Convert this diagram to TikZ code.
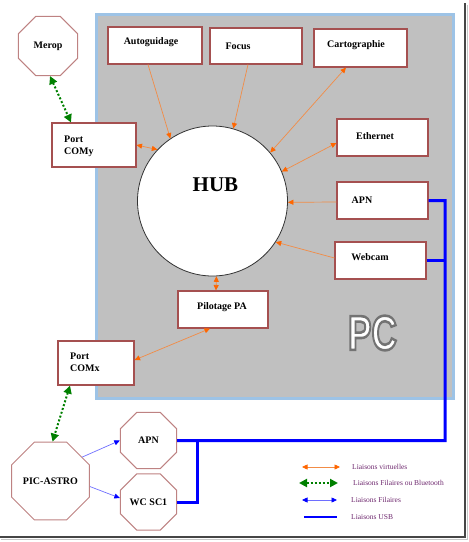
\documentclass[tikz,border=0pt]{standalone}
\usepackage{fontspec}
\setmainfont{Liberation Serif}
\newfontfamily\pcfont{Liberation Sans}
\usetikzlibrary{arrows.meta,calc,shapes.geometric}
\definecolor{boxred}{RGB}{165,80,80}
\definecolor{octred}{RGB}{190,130,130}
\definecolor{pcgray}{RGB}{192,192,192}
\definecolor{pcblue}{RGB}{157,195,230}
\definecolor{oline}{RGB}{242,140,70}
\definecolor{ohead}{RGB}{255,102,0}
\definecolor{gline}{RGB}{0,128,0}
\definecolor{bline}{RGB}{110,110,255}
\definecolor{bhead}{RGB}{0,0,255}
\definecolor{usbblue}{RGB}{0,0,255}
\definecolor{legtext}{RGB}{110,40,110}
\definecolor{shadowdark}{RGB}{70,70,70}
\newcommand{\outlinedtext}[1]{\color{white}\special{pdf:literal direct 0.45 G 2 Tr 2.6 w}#1\special{pdf:literal direct 0 Tr 0 G 0.4 w}}
\tikzset{
  otip/.tip={Triangle[length=5.5pt,width=5pt,color=ohead]},
  gtip/.tip={Triangle[length=8pt,width=8pt,color=gline]},
  btip/.tip={Triangle[length=5.5pt,width=5pt,color=bhead]},
  box/.style={draw=boxred,line width=1.1pt,fill=white,inner sep=0pt},
  oct/.style={regular polygon,regular polygon sides=8,draw=octred,line width=1pt,fill=white,inner sep=0pt,font=\bfseries\fontsize{10}{12}\selectfont},
  btext/.style={inner sep=0pt,font=\bfseries\fontsize{10}{12}\selectfont},
  oarrow/.style={draw=oline,line width=0.7pt},
  garrow/.style={draw=gline,line width=2pt,dash pattern=on 2pt off 2pt,gtip-gtip},
  barrow/.style={draw=bline,line width=0.7pt,-btip},
  usb/.style={draw=usbblue,line width=3pt},
  legend/.style={inner sep=0pt,anchor=west,text=legtext,font=\fontsize{7.5}{9}\selectfont},
  pcstyle/.style={inner sep=0pt,font=\pcfont\bfseries\fontsize{49}{49}\selectfont}
}
\begin{document}
\begin{tikzpicture}[x=1pt,y=-1pt]
\useasboundingbox (0,0) rectangle (469,542);
% page shadow
\draw[line width=1.2pt,gray!45] (467.5,5) -- (467.5,539.5) -- (1,539.5);
\draw[line width=2pt,shadowdark] (465,3) -- (465,537) -- (0,537);

% PC area
\node[draw=pcblue,line width=3.5pt,fill=pcgray,minimum width=357pt,minimum height=384pt,inner sep=0pt] (pc) at (275,206.5) {};

% HUB
\node[circle,draw=gray!40!black,line width=0.8pt,fill=white,minimum size=150pt,inner sep=0pt] (hub) at (212.5,201) {};
\node[inner sep=0pt,font=\bfseries\fontsize{21}{21}\selectfont] (hubtext) at (215.5,185) {HUB};

% boxes
\node[box,minimum width=94pt,minimum height=37pt] (auto) at (155,45.5) {};
\node[btext] (autot) at (151,42) {Autoguidage};
\node[box,minimum width=92pt,minimum height=36pt] (focus) at (256,46) {};
\node[btext] (focust) at (238,46) {Focus};
\node[box,minimum width=93pt,minimum height=38pt] (carto) at (360.5,48) {};
\node[btext] (cartot) at (356,45) {Cartographie};
\node[box,minimum width=91pt,minimum height=37pt] (eth) at (382.5,137.5) {};
\node[btext] (etht) at (375,136) {Ethernet};
\node[box,minimum width=91pt,minimum height=37pt] (apnpc) at (382.5,200.5) {};
\node[btext] (apnpct) at (362,200) {APN};
\node[box,minimum width=91pt,minimum height=37pt] (webcam) at (380.5,260.5) {};
\node[btext] (webcamt) at (370,257) {Webcam};
\node[box,minimum width=90pt,minimum height=37pt] (pilot) at (223,309.5) {};
\node[btext] (pilott) at (222,307) {Pilotage PA};
\node[box,minimum width=84pt,minimum height=44pt] (comy) at (94,145) {};
\node[btext,anchor=west,align=left] (comyt) at (64,146) {Port\\COMy};
\node[box,minimum width=76pt,minimum height=44pt] (comx) at (96,363) {};
\node[btext,anchor=west,align=left] (comxt) at (70,362) {Port\\COMx};

% octagons
\node[oct,minimum size=64pt] (merop) at (48,46) {Merop};
\node[oct,minimum size=74pt] (pic) at (50.5,481) {PIC-ASTRO};
\node[oct,minimum size=61pt] (apno) at (148.5,440.5) {APN};
\node[oct,minimum size=61pt] (wcsc) at (148.5,502) {WC SC1};

% orange (virtual) links
\draw[oarrow,-otip] ($(auto.south)+(-7,0)$) -- (hub.124);
\draw[oarrow,-otip] ($(focus.south)+(-8,0)$) -- (hub.74);
\draw[oarrow,otip-otip] ($(carto.south)+(-14.5,0)$) -- (hub.40);
\draw[oarrow,otip-otip] ($(eth.west)+(0,5.5)$) -- (hub.23);
\draw[oarrow,-otip] ($(apnpc.west)+(0,1.5)$) -- (hub.-1);
\draw[oarrow,-otip] ($(webcam.west)+(0,-2.5)$) -- (hub.-33);
\draw[oarrow,otip-otip] (comy.east) -- (hub.137);
\draw[oarrow,otip-otip] ($(pilot.north)+(-7,0)$) -- (hub.-87);
\draw[oarrow,otip-otip] ($(pilot.south)+(-13,0)$) -- ($(comx.east)+(0,-3)$);

% green links
\draw[garrow] ($(merop.south)+(2,0)$) -- ($(comy.north)+(-23,0)$);
\draw[garrow] ($(comx.south)+(-26,0)$) -- ($(pic.north)+(2,0)$);

% blue wired links
\draw[barrow] (pic.37) -- (apno.west);
\draw[barrow] (pic.-8) -- ($(wcsc.west)+(0,-4)$);

% USB links
\coordinate (usbR) at (445,440.5);
\coordinate (usbJ) at (197,440.5);
\draw[usb] (apnpc.east) -| (usbR) -- (apno.east);
\draw[usb] (webcam.east) -- (webcam.east -| usbR);
\draw[usb] (usbJ) |- (wcsc.east);

% legend
\coordinate (l1a) at (302,467); \coordinate (l1b) at (340,467);
\draw[oarrow,otip-otip] (l1a) -- (l1b);
\node[legend] (l1t) at (352,467) {Liaisons virtuelles};
\coordinate (l2a) at (299,483); \coordinate (l2b) at (338,483);
\draw[garrow] (l2a) -- (l2b);
\node[legend] (l2t) at (353,483) {Liaisons Filaires ou Bluetooth};
\coordinate (l3a) at (302,500); \coordinate (l3b) at (337,500);
\draw[oarrow,draw=bline,btip-btip] (l3a) -- (l3b);
\node[legend] (l3t) at (351,500) {Liaisons Filaires};
\coordinate (l4a) at (304,517); \coordinate (l4b) at (337,517);
\draw[usb,line width=2.5pt] (l4a) -- (l4b);
\node[legend] (l4t) at (351,517) {Liaisons USB};

% PC label (outlined), drawn last
\node[pcstyle] (pclabel) at (372.5,333) {\scalebox{0.72}[1]{\outlinedtext{PC}}};
\end{tikzpicture}
\end{document}
